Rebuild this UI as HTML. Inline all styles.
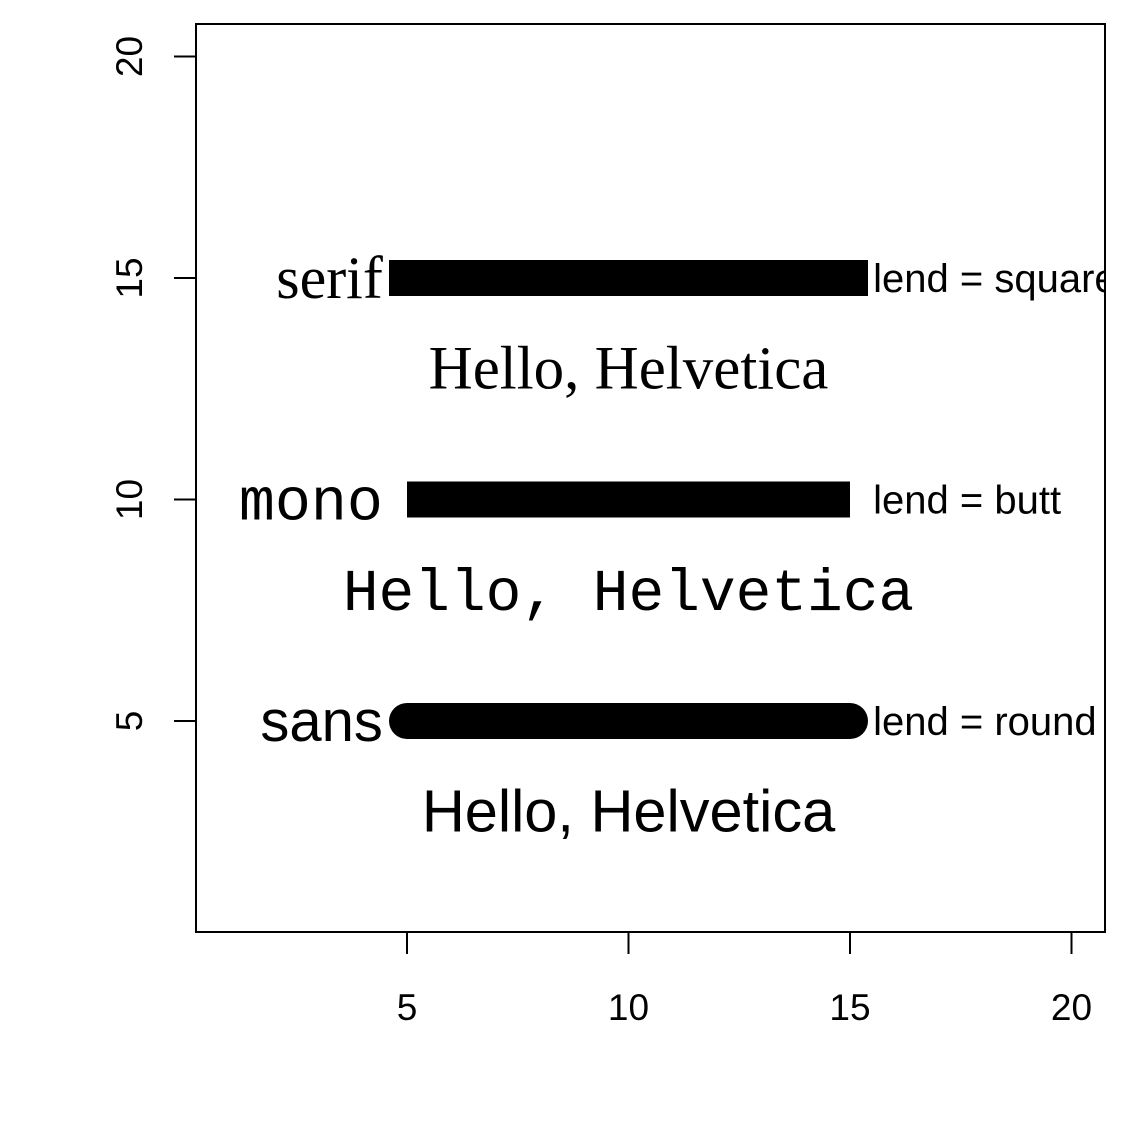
<!DOCTYPE html>
<html><head><meta charset="utf-8"><style>body{margin:0;background:#fff}svg{display:block}</style></head>
<body>
<svg id="chart" width="1130" height="1130" xmlns="http://www.w3.org/2000/svg">
<defs><clipPath id="pc"><rect x="196" y="24" width="909" height="908"/></clipPath></defs>
<rect x="0" y="0" width="1130" height="1130" fill="#fff"/>
<g id="axes"></g>
<g id="marks" clip-path="url(#pc)"></g>
<rect x="196" y="24" width="909" height="908" fill="none" stroke="#000" stroke-width="2"/>
</svg>
<script>
const xTicks = [5, 10, 15, 20];
const yTicks = [5, 10, 15, 20];
const rowY = [15, 10, 5];
const rowLabels = ['serif', 'mono', 'sans'];
const rowCaps = ['square', 'butt', 'round'];
const capLabels = ['lend = square', 'lend = butt', 'lend = round'];
const helloY = [13, 8, 3];
const helloText = ['Hello, Helvetica', 'Hello, Helvetica', 'Hello, Helvetica'];
const lineX0 = [5, 5, 5];
const lineX1 = [15, 15, 15];
const labelX = [4.5, 4.5, 4.5];
const capLabelX = [15.5, 15.5, 15.5];
const helloX = [10, 10, 10];

const fonts = ['"Liberation Serif", serif', '"Liberation Mono", monospace', '"Liberation Sans", sans-serif'];
const helloSizes = [61, 59.5, 59.5];
const labelSizes = [60, 60, 58];
const sx = v => 185.5 + v * 44.3;
const sy = v => 942.5 - v * 44.3;
const NS = 'http://www.w3.org/2000/svg';
const axes = document.getElementById('axes');
const marks = document.getElementById('marks');
function mk(tag, attrs, parent, text) {
  const e = document.createElementNS(NS, tag);
  for (const k in attrs) e.setAttribute(k, attrs[k]);
  if (text !== undefined) e.textContent = text;
  parent.appendChild(e);
  return e;
}
let ax = mk('line', {x1: sx(xTicks[0]), x2: sx(xTicks[xTicks.length-1]), y1: 932, y2: 932, stroke: '#000', 'stroke-width': 2}, axes);


xTicks.forEach(t => {
  const l = mk('line', {x1: sx(t), x2: sx(t), y1: 932, y2: 954, stroke: '#000', 'stroke-width': 2}, axes);
  
  
  const tx = mk('text', {x: sx(t), y: 1020, 'text-anchor': 'middle', 'font-family': '"Liberation Sans", sans-serif', 'font-size': 37}, axes, String(t));
  
  
});
let ay = mk('line', {x1: 196, x2: 196, y1: sy(yTicks[0]), y2: sy(yTicks[yTicks.length-1]), stroke: '#000', 'stroke-width': 2}, axes);


yTicks.forEach(t => {
  const l = mk('line', {x1: 174, x2: 196, y1: sy(t), y2: sy(t), stroke: '#000', 'stroke-width': 2}, axes);
  
  
  const tx = mk('text', {x: 142, y: sy(t), 'text-anchor': 'middle', 'font-family': '"Liberation Sans", sans-serif', 'font-size': 37, transform: `rotate(-90 142 ${sy(t)})`}, axes, String(t));
  
  
});
rowY.forEach((y, i) => {
  const ln = mk('line', {x1: sx(lineX0[i]), x2: sx(lineX1[i]), y1: sy(y), y2: sy(y), stroke: '#000', 'stroke-width': 36, 'stroke-linecap': rowCaps[i]}, marks);
  
  
  const lb = mk('text', {x: sx(labelX[i]) - 2, y: sy(y) + 20, 'text-anchor': 'end', 'font-family': fonts[i], 'font-size': labelSizes[i]}, marks, rowLabels[i]);
  
  
  const cl = mk('text', {x: sx(capLabelX[i]) + 1, y: sy(y) + 14, 'font-family': '"Liberation Sans", sans-serif', 'font-size': 40}, marks, capLabels[i]);
  
  
  const h = mk('text', {x: sx(helloX[i]), y: sy(helloY[i]) + 22, 'text-anchor': 'middle', 'font-family': fonts[i], 'font-size': helloSizes[i]}, marks, helloText[i]);
  
  
});
</script>
</body></html>
